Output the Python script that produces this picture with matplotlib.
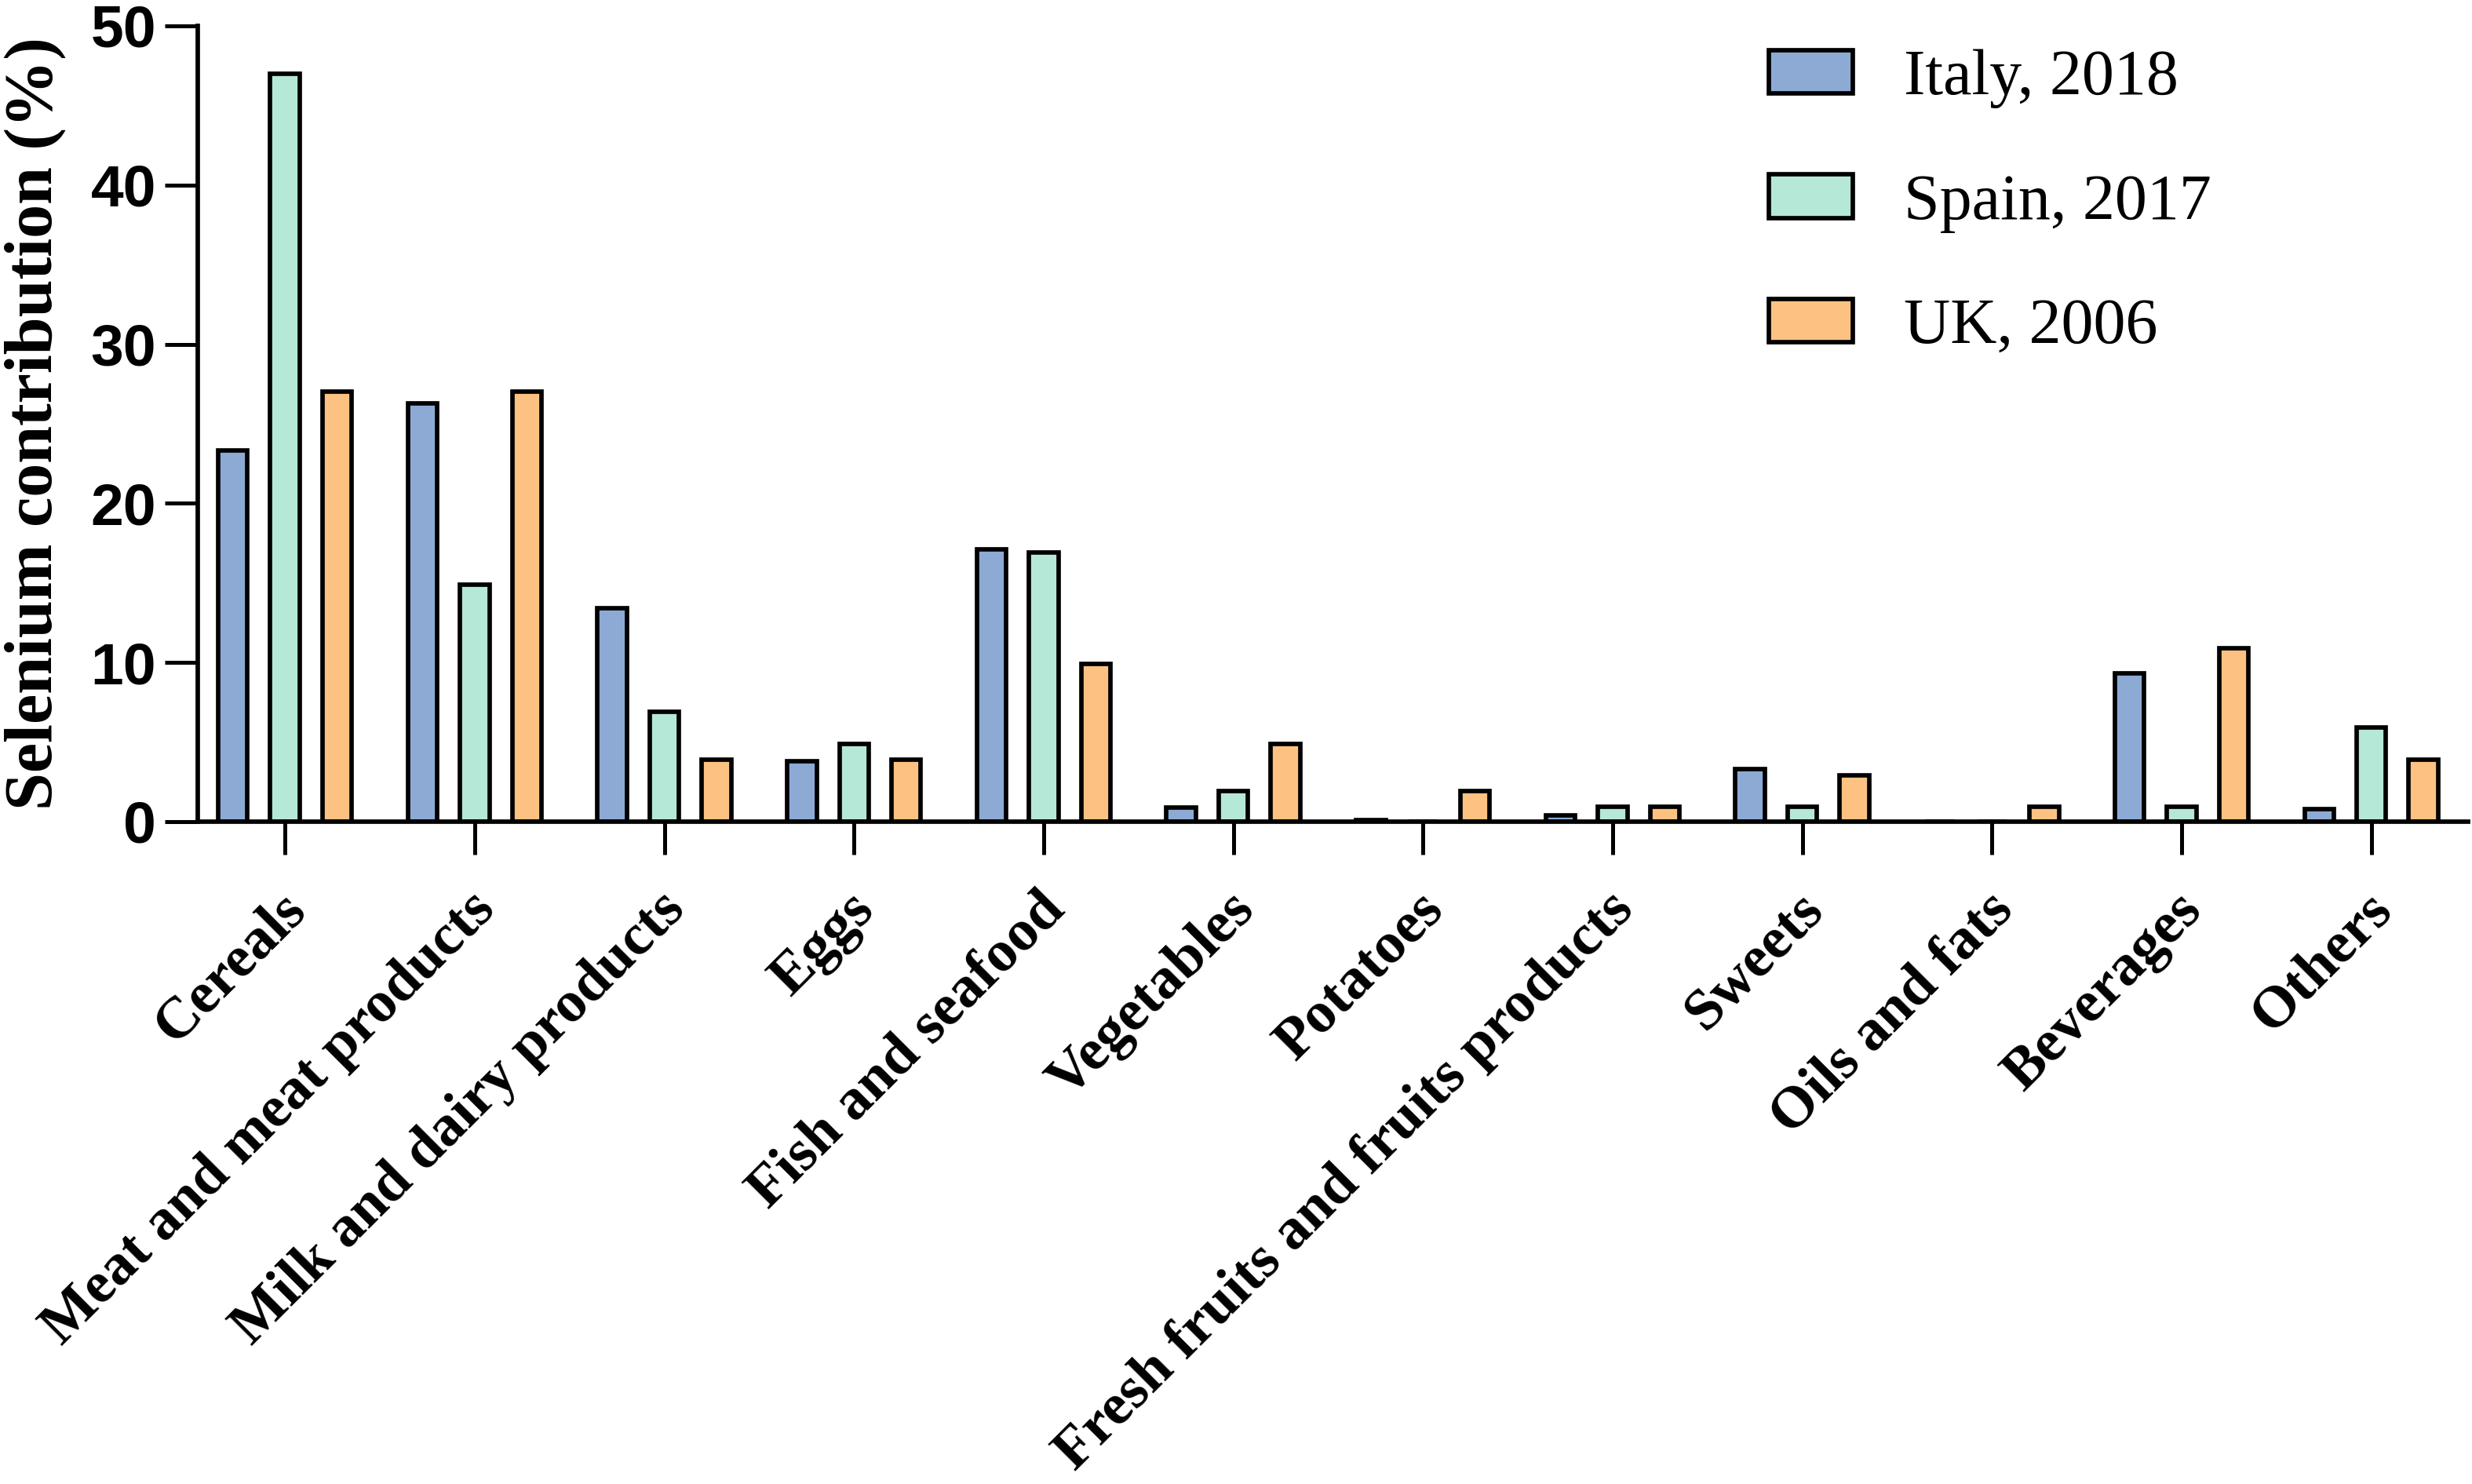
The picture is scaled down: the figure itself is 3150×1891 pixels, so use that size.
import matplotlib
matplotlib.use("Agg")
import matplotlib.pyplot as plt
import matplotlib.transforms as mtransforms
import numpy as np

categories = ["Cereals", "Meat and meat products", "Milk and dairy products", "Eggs",
              "Fish and seafood", "Vegetables", "Potatoes", "Fresh fruits and fruits products",
              "Sweets", "Oils and fats", "Beverages", "Others"]
italy_2018 = [23.3, 26.3, 13.4, 3.8, 17.1, 0.9, 0.1, 0.4, 3.3, 0.0, 9.3, 0.8]
spain_2017 = [47.0, 14.9, 6.9, 4.9, 16.9, 1.9, 0.0, 0.95, 0.95, 0.0, 0.95, 5.9]
uk_2006 = [27.0, 27.0, 3.9, 3.9, 9.9, 4.9, 1.9, 0.95, 2.9, 0.95, 10.9, 3.9]
series_names = ["Italy, 2018", "Spain, 2017", "UK, 2006"]
series_colors = ["#8DAAD4", "#B5E8D6", "#FDC282"]
yticks = [0, 10, 20, 30, 40, 50]

fig = plt.figure(figsize=(31.5, 18.91), dpi=100)
ax = fig.add_axes([252/3150, 1-1047/1891, (3145-252)/3150, (1047-33)/1891])

x = np.arange(len(categories))
offset = 0.275
width = 0.155
for i, (vals, name, col) in enumerate(zip([italy_2018, spain_2017, uk_2006], series_names, series_colors)):
    ax.bar(x + (i-1)*offset, vals, width=width, color=col, edgecolor="black",
           linewidth=4.1, label=name)

ax.set_xlim(-0.46, 11.51)
ax.set_ylim(0, 50)
ax.set_yticks(yticks)
ax.set_yticklabels([str(t) for t in yticks], fontfamily="Liberation Sans",
                   fontweight="bold", fontsize=54)
ax.set_xticks(x)
ax.set_xticklabels(categories, rotation=45, ha="right", va="top", rotation_mode="anchor",
                   fontfamily="Liberation Serif", fontweight="bold", fontsize=54)
ax.tick_params(axis="both", direction="out", length=30, width=3.6, color="black")
ax.tick_params(axis="y", pad=8)
ax.tick_params(axis="x", pad=26)
shift = mtransforms.ScaledTranslation(-8/100, 0, fig.dpi_scale_trans)
for lbl in ax.get_xticklabels():
    lbl.set_transform(lbl.get_transform() + shift)
for s in ["top", "right"]:
    ax.spines[s].set_visible(False)
for s in ["left", "bottom"]:
    ax.spines[s].set_linewidth(4.1)

ax.set_ylabel("Selenium contribution (%)", fontfamily="Liberation Serif",
              fontweight="bold", fontsize=62)
ax.yaxis.set_label_coords(-0.058, 0.5)

leg = fig.legend(loc="upper left", bbox_to_anchor=(2254/3150, 1-63/1891), frameon=False,
                 prop={"family": "Liberation Serif", "size": 59},
                 handlelength=1.3, handleheight=0.66, handletextpad=0.8,
                 labelspacing=1.01, borderpad=0, borderaxespad=0)

fig.savefig("out.png", dpi=100)
